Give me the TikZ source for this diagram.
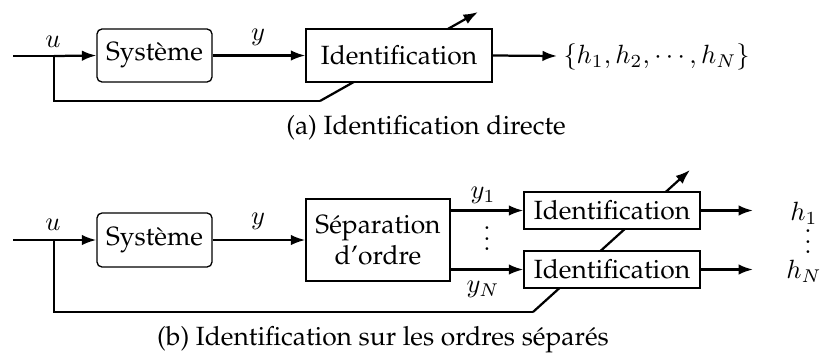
\documentclass[tikz,border=0pt]{standalone}
\usepackage[T1]{fontenc}
\renewcommand{\rmdefault}{ppl}
\usetikzlibrary{arrows.meta}
\newlength{\pxu}\setlength{\pxu}{0.379pt}
\newcommand{\vdts}{\vbox{\baselineskip4pt \lineskiplimit0pt \hbox{$.$}\hbox{$.$}\hbox{$.$}}}
\tikzset{
  blk/.style={draw, line width=0.5pt, fill=white, inner sep=0pt, align=center},
  rblk/.style={blk, rounded corners=5\pxu},
  wire/.style={line width=0.85pt},
  arr/.style={wire, -{Latex[length=5.5pt, width=4pt]}},
  lbl/.style={inner sep=0pt}
}
\begin{document}
\begin{tikzpicture}[x=0.379pt, y=-0.379pt]
\useasboundingbox (0,0) rectangle (822,360);
% ---------- (a) ----------
\coordinate (in1) at (13,56);
\coordinate (j1) at (54,56);
\coordinate (fb1) at (320,101);
\coordinate (tip1) at (478,12);
\draw[wire] (j1) |- (fb1);
\draw[arr] (fb1) -- (tip1);
\node[rblk, minimum width=115\pxu, minimum height=53\pxu] (sys1) at (154.5,55.5) {Syst\`eme};
\node[blk, minimum width=186\pxu, minimum height=53\pxu] (id1) at (399,55.5) {Identification};
\coordinate (o1) at (557,56);
\node[lbl, anchor=west] (res1) at (563,57) {$\{h_1,h_2,\cdots,h_N\}$};
\draw[wire] (in1) -- (j1);
\draw[arr] (j1) -- (sys1.west);
\draw[arr] (sys1.east) -- (id1.west);
\draw[arr] (id1.east) -- (o1);
\node[lbl] (u1) at (53,42) {$u$};
\node[lbl] (y1l) at (258,37) {$y$};
\node[lbl] (capa) at (426,128) {(a) Identification directe};
% ---------- (b) ----------
\coordinate (in2) at (13,240);
\coordinate (j2) at (54,240);
\coordinate (fb2) at (533,312);
\coordinate (tip2) at (690,170);
\draw[wire] (j2) |- (fb2);
\draw[arr] (fb2) -- (tip2);
\node[rblk, minimum width=115\pxu, minimum height=54\pxu] (sys2) at (154.5,240) {Syst\`eme};
\node[blk, minimum width=144\pxu, minimum height=82\pxu] (sep) at (378,240) {S\'eparation\\d'ordre};
\node[blk, minimum width=176\pxu, minimum height=37\pxu] (idA) at (612,210.5) {Identification};
\node[blk, minimum width=176\pxu, minimum height=37\pxu] (idB) at (612,269.5) {Identification};
\coordinate (oA) at (753,210.5);
\coordinate (oB) at (753,269.5);
\draw[wire] (in2) -- (j2);
\draw[arr] (j2) -- (sys2.west);
\draw[arr] (sys2.east) -- (sep.west);
\draw[arr] (sep.east |- idA.west) -- (idA.west);
\draw[arr] (sep.east |- idB.west) -- (idB.west);
\draw[arr] (idA.east) -- (oA);
\draw[arr] (idB.east) -- (oB);
\node[lbl] (u2) at (53,225) {$u$};
\node[lbl] (y2l) at (258,221) {$y$};
\node[lbl] (ya) at (483,195) {$y_1$};
\node[lbl] (yb) at (483,289) {$y_N$};
\node[lbl] (vd1) at (487,239) {\vdts};
\node[lbl] (h1) at (804,213) {$h_1$};
\node[lbl] (hN) at (804,271) {$h_N$};
\node[lbl] (vd2) at (808,242) {\vdts};
\node[lbl] (capb) at (383,340) {(b) Identification sur les ordres s\'epar\'es};
\end{tikzpicture}
\end{document}
